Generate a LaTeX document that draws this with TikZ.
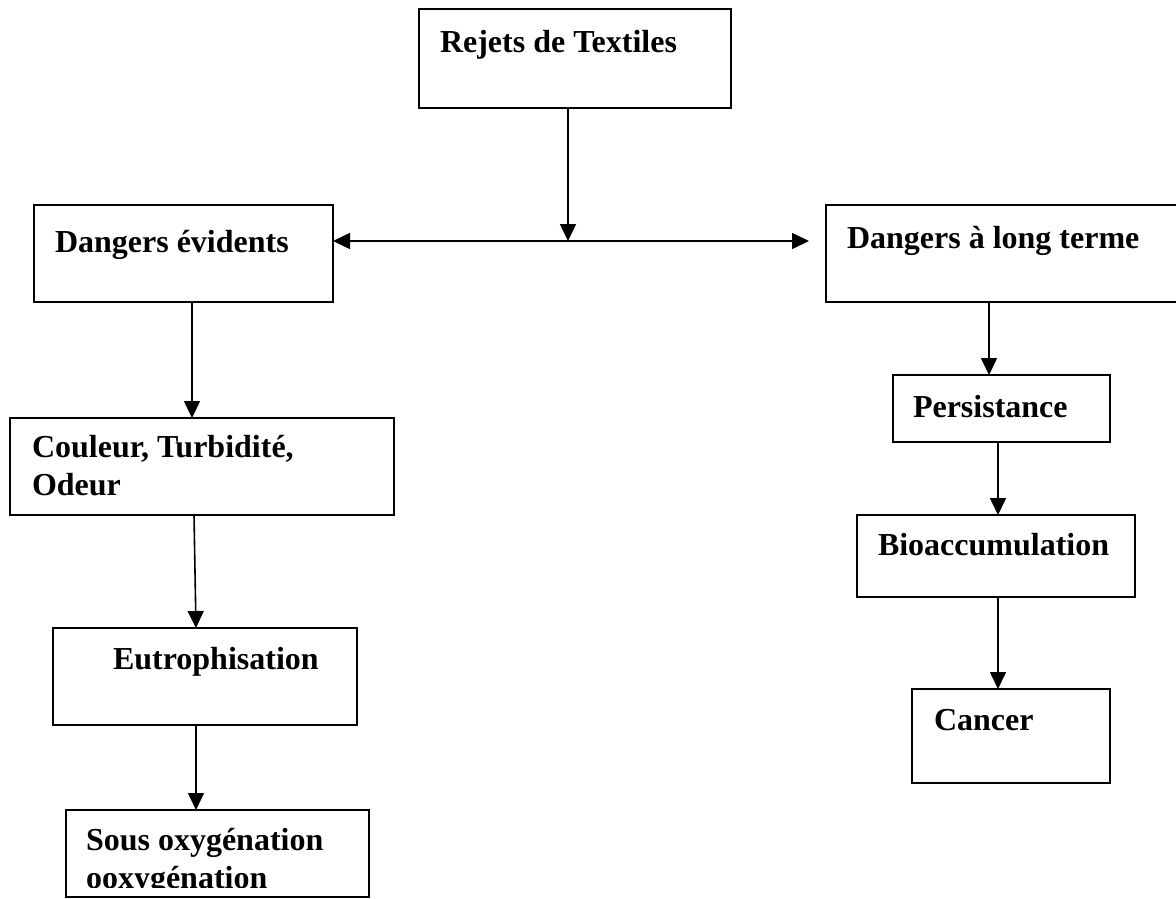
\documentclass[tikz,border=0pt]{standalone}
\usepackage{fontspec}
\setmainfont{Liberation Serif}
\usetikzlibrary{arrows.meta}
\begin{document}
\begin{tikzpicture}[x=1pt,y=-1pt,
  boxst/.style={draw,line width=1.6pt,rectangle,inner sep=0pt,outer sep=0pt,anchor=north west},
  txt/.style={inner sep=0pt,outer sep=0pt,anchor=base west,font=\fontsize{32}{38}\selectfont\bfseries},
  arr/.style={line width=1.6pt,-{Triangle[length=17pt,width=16pt]}},
  arrtwo/.style={line width=1.6pt,{Triangle[length=17pt,width=16pt]}-{Triangle[length=17pt,width=16pt]}}]
\useasboundingbox (0,0) rectangle (1176,898);
\clip (0,0) rectangle (1176,898);
% boxes
\node[boxst,minimum width=312pt,minimum height=99pt] (rej) at (419,9) {};
\node[boxst,minimum width=299pt,minimum height=97pt] (dev) at (34,205) {};
\node[boxst,minimum width=370pt,minimum height=97pt] (dlt) at (826,205) {};
\node[boxst,minimum width=384pt,minimum height=97pt] (coul) at (10,418) {};
\node[boxst,minimum width=304pt,minimum height=97pt] (eut) at (53,628) {};
\node[boxst,minimum width=303pt,minimum height=87pt] (sous) at (66,810) {};
\node[boxst,minimum width=217pt,minimum height=67pt] (pers) at (893,375) {};
\node[boxst,minimum width=278pt,minimum height=82pt] (bio) at (857,515) {};
\node[boxst,minimum width=198pt,minimum height=94pt] (can) at (912,689) {};
% texts
\node[txt] (trej) at (440,52) {Rejets de Textiles};
\node[txt] (tdev) at (55,252) {Dangers évidents};
\node[txt] (tdlt) at (847,248) {Dangers à long terme};
\node[txt] (tcoula) at (32,457) {Couleur, Turbidité,};
\node[txt] (tcoulb) at (32,495) {Odeur};
\node[txt] (teut) at (113,669) {Eutrophisation};
\node[txt] (tsousa) at (86,850) {Sous oxygénation};
\begin{scope}
\clip (sous.north west) rectangle ([yshift=10pt]sous.south east);
\node[txt] (tsousb) at (86,888) {ooxygénation};
\end{scope}
\node[txt] (tpers) at (913,417) {Persistance};
\node[txt] (tbio) at (878,555) {Bioaccumulation};
\node[txt] (tcan) at (934,730) {Cancer};
% connectors
\coordinate (j) at (568,241);
\coordinate (rtip) at (809,241);
\draw[arr] (rej.south -| j) -- (j);
\draw[arrtwo] (dev.east |- j) -- (rtip);
\draw[arr] ([xshift=158pt]dev.south west) -- ([xshift=182pt]coul.north west);
\draw[arr] ([xshift=184pt]coul.south west) -- ([xshift=143pt]eut.north west);
\draw[arr] ([xshift=143pt]eut.south west) -- ([xshift=130pt]sous.north west);
\draw[arr] ([xshift=163pt]dlt.south west) -- ([xshift=96pt]pers.north west);
\draw[arr] ([xshift=105pt]pers.south west) -- ([xshift=141pt]bio.north west);
\draw[arr] ([xshift=141pt]bio.south west) -- ([xshift=86pt]can.north west);
\end{tikzpicture}
\end{document}
